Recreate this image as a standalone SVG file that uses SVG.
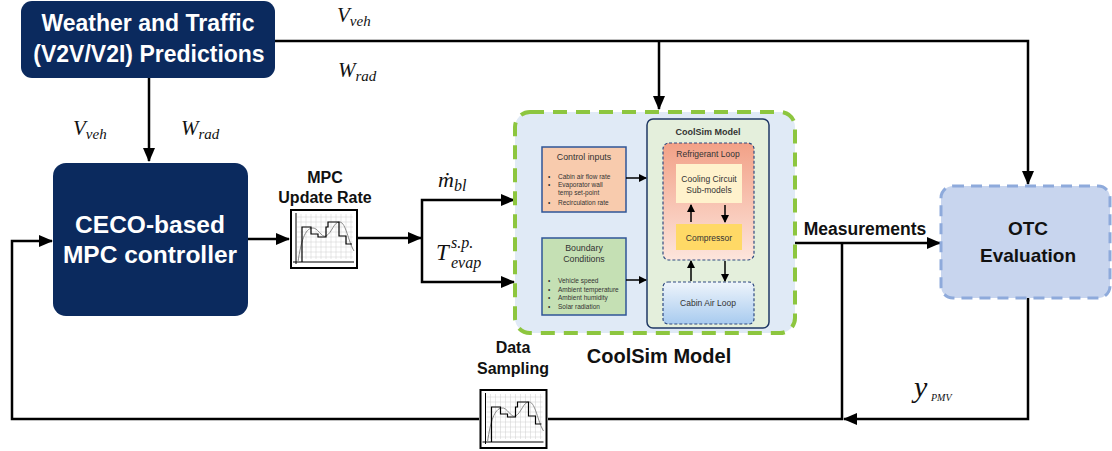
<svg xmlns="http://www.w3.org/2000/svg" xmlns:xlink="http://www.w3.org/1999/xlink" width="1112" height="451" viewBox="0 0 1112 451">
<style>
.navy{fill:#0b2a5e}
.wt{fill:#fff;font-family:"Liberation Sans",Arial,sans-serif;font-weight:bold;text-anchor:middle}
.lb{fill:#111;font-family:"Liberation Sans",Arial,sans-serif;font-weight:bold;text-anchor:middle}
.math{font-family:"Liberation Serif","DejaVu Serif",serif;font-style:italic;fill:#111}
.ln{fill:none;stroke:#000;stroke-width:2.5}
.sm{font-family:"Liberation Sans",Arial,sans-serif;fill:#333}
.smc{font-family:"Liberation Sans",Arial,sans-serif;fill:#333;text-anchor:middle}
.thin{fill:none;stroke:#000;stroke-width:1.5}
</style>
<defs>
<marker id="ah" markerUnits="userSpaceOnUse" markerWidth="14" markerHeight="12" refX="13" refY="6" orient="auto">
<path d="M0,0 L14,6 L0,12 Z" fill="#000"/>
</marker>
<marker id="ahs" markerUnits="userSpaceOnUse" markerWidth="8" markerHeight="8" refX="7" refY="4" orient="auto">
<path d="M0,0 L8,4 L0,8 Z" fill="#000"/>
</marker>
<linearGradient id="gref" x1="0" y1="0" x2="0" y2="1">
<stop offset="0" stop-color="#f2a187"/>
<stop offset="1" stop-color="#fde5dc"/>
</linearGradient>
<linearGradient id="gcab" x1="0" y1="0" x2="0" y2="1">
<stop offset="0" stop-color="#eef4fb"/>
<stop offset="1" stop-color="#a8cbef"/>
</linearGradient>
<symbol id="chart" viewBox="0 0 68 60">
<rect x="1" y="1" width="66" height="58" fill="#fff" stroke="#000" stroke-width="2"/>
<g stroke="#cfcfcf" stroke-width="0.5">
<path d="M11,5V50M16,5V50M21,5V50M26,5V50M31,5V50M36,5V50M41,5V50M46,5V50M51,5V50M56,5V50M61,5V50"/>
<path d="M7,8H63M7,13H63M7,18H63M7,23H63M7,28H63M7,33H63M7,38H63M7,43H63M7,48H63"/>
</g>
<path d="M6,55V4M3,53H64" stroke="#000" stroke-width="1"/>
<path d="M8,53 C11,32 15,20 22,19 C28,18 31,29 36,27 C42,24 44,12 50,13 C56,14 58,32 64,42" fill="none" stroke="#8a8a8a" stroke-width="1"/>
<path d="M12,53V18H21V25H28V28H36V18H38V13H49V27H56V35H62" fill="none" stroke="#000" stroke-width="1.2"/>
</symbol>
</defs>
<rect width="1112" height="451" fill="#fff"/>

<g id="connectors">
<path class="ln" d="M275,41H1028V184" marker-end="url(#ah)"/>
<path class="ln" d="M659,41V109" marker-end="url(#ah)"/>
<path class="ln" d="M149,78V161" marker-end="url(#ah)"/>
<path class="ln" d="M248,239H289" marker-end="url(#ah)"/>
<path class="ln" d="M358,238H421" marker-end="url(#ah)"/>
<path class="ln" d="M422,238V200H514" marker-end="url(#ah)"/>
<path class="ln" d="M422,238V282H514" marker-end="url(#ah)"/>
<path class="ln" d="M795,243H940" marker-end="url(#ah)"/>
<path class="ln" d="M842,243V419H548"/>
<path class="ln" d="M479,419H12V241H52" marker-end="url(#ah)"/>
<path class="ln" d="M1028,298V419H844" marker-end="url(#ah)"/>
</g>

<g id="labels">
<text class="math" x="337" y="22" font-size="21">V<tspan font-size="15" dy="4">veh</tspan></text>
<text class="math" x="338" y="77" font-size="21">W<tspan font-size="15" dy="4">rad</tspan></text>
<text class="math" x="73" y="135" font-size="21">V<tspan font-size="15" dy="4">veh</tspan></text>
<text class="math" x="181" y="135" font-size="21">W<tspan font-size="15" dy="4">rad</tspan></text>
<text class="math" x="438" y="187" font-size="22">ṁ<tspan font-size="16" dy="4">bl</tspan></text>
<text class="math" x="436" y="260" font-size="23">T</text>
<text class="math" x="451" y="248" font-size="16">s.p.</text>
<text class="math" x="451" y="268" font-size="16">evap</text>
<text class="math" x="914" y="397" font-size="30">y</text>
<text class="math" x="931" y="401" font-size="10">PMV</text>
<text class="lb" x="865" y="235" font-size="17.5">Measurements</text>
</g>

<g id="weather">
<rect class="navy" x="21" y="1" width="254" height="77" rx="11"/>
<text class="wt" x="148" y="31" font-size="23">Weather and Traffic</text>
<text class="wt" x="149" y="62" font-size="23">(V2V/V2I) Predictions</text>
</g>

<g id="ceco">
<rect class="navy" x="53" y="163" width="195" height="153" rx="13"/>
<text class="wt" x="150" y="233" font-size="24.5">CECO-based</text>
<text class="wt" x="150" y="263" font-size="24.5">MPC controller</text>
</g>

<g id="mpc-update">
<text class="lb" x="325" y="183" font-size="16">MPC</text>
<text class="lb" x="325" y="203" font-size="16">Update Rate</text>
<use href="#chart" x="290" y="209" width="68" height="60"/>
</g>

<g id="data-sampling">
<text class="lb" x="513" y="353" font-size="16">Data</text>
<text class="lb" x="513" y="374" font-size="16">Sampling</text>
<use href="#chart" x="479" y="389" width="69" height="60"/>
</g>

<g id="coolsim">
<rect x="515" y="112" width="280" height="221" rx="15" fill="#e0eaf6" stroke="#8dc63f" stroke-width="4" stroke-dasharray="14,9"/>
<text class="lb" x="659" y="363" font-size="20">CoolSim Model</text>

<g id="control-inputs">
<rect x="542" y="147" width="84" height="65" fill="#f8cbad" stroke="#2f5597" stroke-width="1.5"/>
<text class="smc" x="584" y="160" font-size="8.8">Control inputs</text>
<g class="sm" font-size="6.5">
<text x="548" y="179">•</text><text x="558" y="179">Cabin air flow rate</text>
<text x="548" y="187">•</text><text x="558" y="187">Evaporator wall</text>
<text x="558" y="195">temp set-point</text>
<text x="548" y="205">•</text><text x="558" y="205">Recirculation rate</text>
</g>
</g>

<g id="boundary">
<rect x="542" y="238" width="84" height="77" fill="#c5e0b4" stroke="#2f5597" stroke-width="1.5"/>
<text class="smc" x="584" y="251" font-size="8.8">Boundary</text>
<text class="smc" x="584" y="262" font-size="8.8">Conditions</text>
<g class="sm" font-size="6.5">
<text x="548" y="283">•</text><text x="558" y="283">Vehicle speed</text>
<text x="548" y="292">•</text><text x="558" y="292">Ambient temperature</text>
<text x="548" y="300">•</text><text x="558" y="300">Ambient humidity</text>
<text x="548" y="309">•</text><text x="558" y="309">Solar radiation</text>
</g>
</g>

<g id="coolsim-inner">
<rect x="647" y="119" width="122" height="209" rx="6" fill="#e4efdc" stroke="#1f3864" stroke-width="1.5"/>
<text class="smc" x="708" y="135" font-size="9" font-weight="bold" fill="#222">CoolSim  Model</text>
</g>

<g id="refrigerant-loop">
<rect x="663" y="143" width="91" height="117" rx="6" fill="url(#gref)" stroke="#2f4a80" stroke-width="1.2" stroke-dasharray="3,2"/>
<text class="smc" x="708" y="157" font-size="8.5">Refrigerant Loop</text>
</g>

<g id="cooling-circuit">
<rect x="676" y="164" width="66" height="39" fill="#fff2cc"/>
<text class="smc" x="709" y="182" font-size="8.5">Cooling Circuit</text>
<text class="smc" x="709" y="193" font-size="8.5">Sub-models</text>
</g>

<g id="compressor">
<rect x="676" y="224" width="66" height="26" fill="#ffd966"/>
<text class="smc" x="709" y="241" font-size="8.5">Compressor</text>
</g>

<g id="cabin-air-loop">
<rect x="663" y="282" width="91" height="42" rx="5" fill="url(#gcab)" stroke="#2f4a80" stroke-width="1.2" stroke-dasharray="3,2"/>
<text class="smc" x="708" y="306" font-size="8.5">Cabin Air Loop</text>
</g>

<g id="inner-connectors">
<path class="thin" d="M626,178H646" marker-end="url(#ahs)"/>
<path class="thin" d="M626,280H646" marker-end="url(#ahs)"/>
<path class="thin" d="M691,222V205" marker-end="url(#ahs)"/>
<path class="thin" d="M725,205V222" marker-end="url(#ahs)"/>
<path class="thin" d="M691,281V261" marker-end="url(#ahs)"/>
<path class="thin" d="M725,261V281" marker-end="url(#ahs)"/>
</g>
</g>

<g id="otc">
<rect x="941" y="186" width="169" height="112" rx="12" fill="#c8d5ee" stroke="#8eaadb" stroke-width="3" stroke-dasharray="11,7"/>
<text class="lb" x="1028" y="235" font-size="19">OTC</text>
<text class="lb" x="1028" y="262" font-size="19">Evaluation</text>
</g>
</svg>
